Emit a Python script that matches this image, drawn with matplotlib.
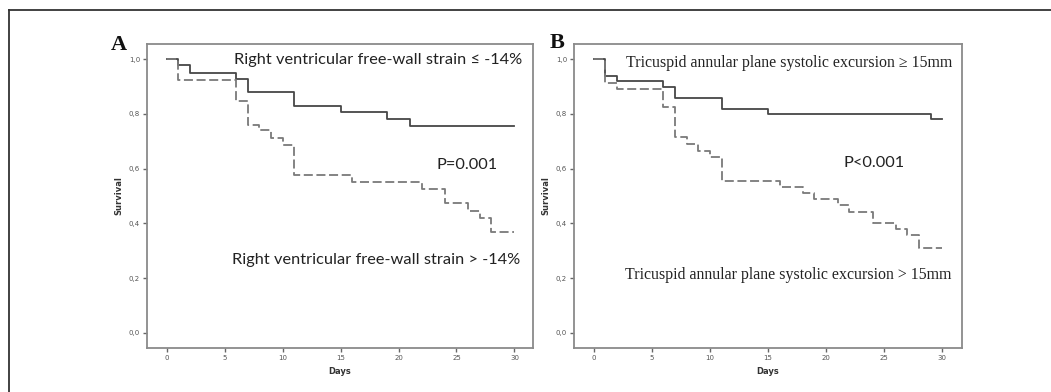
"""
Kaplan-Meier survival curves, two panels (RV free-wall strain / TAPSE).
"""
import matplotlib
matplotlib.use('Agg')
import matplotlib.pyplot as plt
from matplotlib.lines import Line2D

# =====================================================================
# Data (step times in days, survival fraction)
# =====================================================================
A_GOOD_T = [0, 1, 2, 6, 7, 11, 15, 19, 21, 30]
A_GOOD_S = [1.0, 0.978, 0.950, 0.927, 0.878, 0.827, 0.807, 0.781, 0.755, 0.755]

A_POOR_T = [0, 1, 6, 7, 8, 9, 10, 11, 16, 22, 24, 26, 27, 28, 30]
A_POOR_S = [1.0, 0.922, 0.848, 0.761, 0.741, 0.710, 0.685, 0.577, 0.552,
            0.524, 0.473, 0.447, 0.420, 0.367, 0.367]

B_GOOD_T = [0, 1, 2, 6, 7, 11, 15, 29, 30]
B_GOOD_S = [1.0, 0.939, 0.920, 0.899, 0.859, 0.818, 0.798, 0.780, 0.780]

B_POOR_T = [0, 1, 2, 6, 7, 8, 9, 10, 11, 16, 18, 19, 21, 22, 24, 26, 27, 28, 30]
B_POOR_S = [1.0, 0.911, 0.890, 0.824, 0.714, 0.690, 0.665, 0.644, 0.556,
            0.534, 0.512, 0.489, 0.467, 0.443, 0.400, 0.378, 0.358, 0.311, 0.311]

X_TICKS = [0, 5, 10, 15, 20, 25, 30]
Y_TICKS = [0.0, 0.2, 0.4, 0.6, 0.8, 1.0]
Y_TICKLABELS = ['0,0', '0,2', '0,4', '0,6', '0,8', '1,0']

W, H = 1051, 392
fig = plt.figure(figsize=(W / 100, H / 100), dpi=100)
fig.patch.set_facecolor('white')

# outer frame (left + top edges visible)
fig.add_artist(Line2D([9 / W, 9 / W], [0, 1 - 10 / H], transform=fig.transFigure,
                      color='#333333', lw=1.3))
fig.add_artist(Line2D([9 / W, 1], [1 - 10 / H, 1 - 10 / H], transform=fig.transFigure,
                      color='#333333', lw=1.3))

SOLID = '#474747'
DASH = '#7a7a7a'


def make_axes(left_px, right_px):
    ax = fig.add_axes([left_px / W, (H - 348) / H, (right_px - left_px) / W, 304 / H])
    for s in ax.spines.values():
        s.set_color('#8a8a8a')
        s.set_linewidth(1.3)
    ax.set_ylim(-0.055, 1.055)
    ax.set_xticks(X_TICKS)
    ax.set_yticks(Y_TICKS)
    ax.set_yticklabels(Y_TICKLABELS)
    ax.tick_params(direction='out', length=3, width=1, color='#666666',
                   labelsize=5, labelcolor='#555555', pad=2)
    ax.set_xlabel('Days', fontsize=6, fontweight='bold', color='#333333', labelpad=4)
    ax.set_ylabel('Survival', fontsize=6, fontweight='bold', color='#333333', labelpad=4)
    return ax


# ---------------------------------------------------------------------
# (A) RV free-wall strain
# ---------------------------------------------------------------------
ax_a = make_axes(147, 533)
ax_a.set_xlim(-1.7, 31.6)
ax_a.step(A_GOOD_T, A_GOOD_S, where='post', color=SOLID, lw=1.3)
ax_a.step(A_POOR_T, A_POOR_S, where='post', color=DASH, lw=1.3, dashes=(5, 2))
ax_a.text(30.66, 0.996, 'Right ventricular free-wall strain \u2264 -14%',
          family='Lato', fontsize=11.8, ha='right', va='center', color='#222222')
ax_a.text(25.9, 0.613, 'P=0.001', family='Lato', fontsize=11.8,
          ha='center', va='center', color='#222222')
ax_a.text(30.5, 0.266, 'Right ventricular free-wall strain > -14%',
          family='Lato', fontsize=11.8, ha='right', va='center', color='#222222')
fig.text(119 / W, 1 - 45 / H, 'A', family='Liberation Serif', fontweight='bold',
         fontsize=16, ha='center', va='center', color='#111111')

# ---------------------------------------------------------------------
# (B) TAPSE
# ---------------------------------------------------------------------
ax_b = make_axes(574, 962)
ax_b.set_xlim(-1.7, 31.7)
ax_b.step(B_GOOD_T, B_GOOD_S, where='post', color=SOLID, lw=1.3)
ax_b.step(B_POOR_T, B_POOR_S, where='post', color=DASH, lw=1.3, dashes=(5, 2))
ax_b.text(30.9, 0.985, 'Tricuspid annular plane systolic excursion \u2265 15mm',
          family='Liberation Serif', fontsize=11.4, ha='right', va='center', color='#222222')
ax_b.text(24.1, 0.620, 'P<0.001', family='Lato', fontsize=11.8,
          ha='center', va='center', color='#222222')
ax_b.text(30.75, 0.212, 'Tricuspid annular plane systolic excursion > 15mm',
          family='Liberation Serif', fontsize=11.4, ha='right', va='center', color='#222222')
fig.text(557 / W, 1 - 43 / H, 'B', family='Liberation Serif', fontweight='bold',
         fontsize=16, ha='center', va='center', color='#111111')

plt.savefig('out.png', dpi=100)
print("Figure saved.")
